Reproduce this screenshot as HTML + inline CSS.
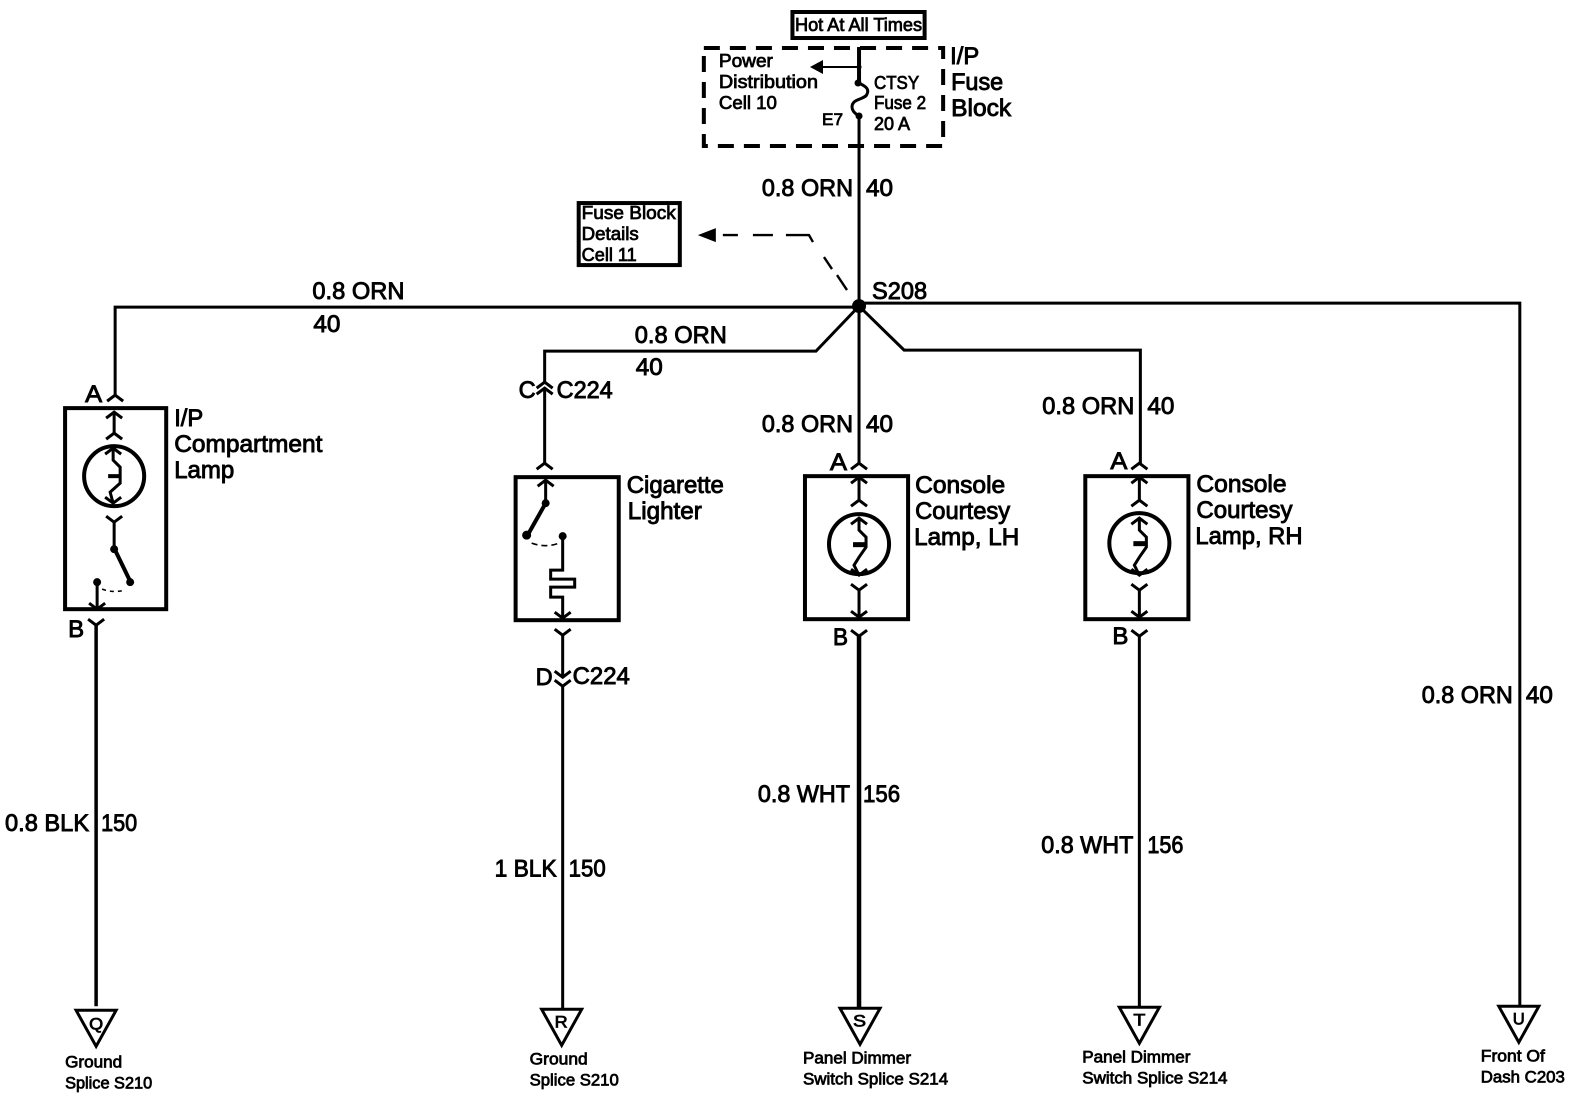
<!DOCTYPE html>
<html><head><meta charset="utf-8"><style>
html,body{margin:0;padding:0;background:#fff;width:1570px;height:1104px;overflow:hidden}
svg{display:block}
text{font-family:"Liberation Sans",sans-serif;fill:#000;stroke:#000;stroke-width:.9px}
.l{font-size:24px}.m{font-size:18px;stroke-width:.75px}.s{font-size:16.5px;stroke-width:.75px}
</style></head><body>
<svg width="1570" height="1104" viewBox="0 0 1570 1104" xmlns="http://www.w3.org/2000/svg">
<defs>
<path id="up" d="M-8,6 L0,0 L8,6" fill="none" stroke="#000" stroke-width="3"/>
<path id="dn" d="M-8,-6 L0,0 L8,-6" fill="none" stroke="#000" stroke-width="3"/>
</defs>
<g transform="scale(1.0012,1.0003)">
<g fill="none" stroke="#000" stroke-width="3">
<!-- top box -->
<rect x="791.5" y="12" width="132" height="26" stroke-width="4"/>
<rect x="703" y="48" width="239" height="98" stroke-dasharray="16 10" stroke-width="4"/>
<!-- main wire -->
<path d="M858,47 V82" stroke-width="4"/>
<path d="M857,83 C866,86 868,90 866,94 C864,100 851,98 851,107 C851,112 856,114 858,117" stroke-width="3"/>
<path d="M858,117 V463"/>
<path d="M858,67 H822" stroke-width="2"/>
<path d="M858,477 V500 M858,590 V617"/>
<path d="M858,636 V1008" stroke-width="4.5"/>
<!-- horizontals -->
<path d="M115,395 V307 H858 M858,303 H1518 V1006"/>
<path d="M544,382 V351 H815 L858,306 L903,350 H1139 V463"/>
<path d="M544,388 V463"/>
<!-- Left lamp -->
<rect x="65" y="408" width="101" height="201" stroke-width="4"/>
<circle cx="114" cy="476" r="30" stroke-width="4"/>
<path d="M114,412 V433 M113,448 V460 L120,467 V483 L110,492 L113,503 M114,522 V548"/>
<path d="M114,548 L130,581" stroke-width="4"/>
<path d="M97,582 V608"/>
<path d="M102,589 Q113,593 125,590" stroke-width="1.6" stroke-dasharray="4 4"/>
<path d="M96,625 V1006" stroke-width="3.5"/>
<!-- Cigarette -->
<rect x="515" y="477" width="103" height="143" stroke-width="4"/>
<path d="M545,480 V503"/>
<path d="M545,503 L527,535" stroke-width="4"/>
<path d="M562,536 V570 H550 V579 H574 V587 H550 V597 H562 V618"/>
<path d="M531,543 Q545,548 558,543" stroke-width="1.6" stroke-dasharray="6 4"/>
<path d="M562,635 V677 M562,686 V1008"/>
<!-- LH -->
<rect x="804" y="476" width="103" height="143" stroke-width="4"/>
<circle cx="858" cy="544" r="30" stroke-width="4"/>
<path d="M858,518 V530 L865,537 V547 L858,557 L853,565 L858,575"/>
<!-- RH -->
<rect x="1084" y="476" width="103" height="143" stroke-width="4"/>
<circle cx="1138" cy="543" r="30" stroke-width="4"/>
<path d="M1138,477 V500 M1138,518 V530 L1145,537 V547 L1138,557 L1133,565 L1138,575 M1138,590 V617 M1138,636 V1007"/>
<!-- dashed -->
<path d="M722,235 H737 M752,235 H772 M785,235 H808 L812,242 M823,257 L831,269 M836,275 L846,290" stroke-width="2.4"/>
<rect x="578" y="203" width="101" height="62" stroke-width="4"/>
<!-- triangles -->
<path d="M76,1010 H116 L96,1046 Z"/>
<path d="M541,1009 H581 L561,1045 Z"/>
<path d="M839,1008 H879 L859,1044 Z"/>
<path d="M1118,1007 H1158 L1138,1043 Z"/>
<path d="M1497,1006 H1537 L1517,1042 Z"/>
</g>
<!-- dots and arrowheads -->
<circle cx="858" cy="306" r="7"/>
<g>
<circle cx="858" cy="67" r="2.5"/><circle cx="857" cy="83" r="3.5"/><circle cx="858" cy="116" r="3.5"/>
<path d="M809,67 L822,60 V74 Z"/>
<path d="M697,235 L715,228 V242 Z"/>
<circle cx="114" cy="549" r="4"/><circle cx="130" cy="582" r="4"/><circle cx="97" cy="582" r="4"/>
<circle cx="545" cy="503" r="4"/><circle cx="526" cy="535" r="4.5"/><circle cx="562" cy="536" r="4"/>
<rect x="108" y="474" width="11" height="4"/><rect x="852" y="542" width="12" height="5"/><rect x="1132" y="541" width="12" height="5"/>
</g>
<!-- connectors -->
<use href="#up" x="115" y="395"/><use href="#up" x="114" y="412"/><use href="#up" x="114" y="433"/><use href="#up" x="113" y="448"/>
<use href="#dn" x="113" y="503"/><use href="#dn" x="114" y="522"/><use href="#dn" x="97" y="609"/><use href="#dn" x="96" y="625"/>
<use href="#up" x="544" y="382"/><use href="#up" x="544" y="388"/><use href="#up" x="544" y="463"/><use href="#up" x="545" y="480"/>
<use href="#dn" x="562" y="618"/><use href="#dn" x="562" y="635"/><use href="#dn" x="562" y="677"/><use href="#dn" x="562" y="686"/>
<use href="#up" x="858" y="463"/><use href="#up" x="858" y="477"/><use href="#up" x="858" y="500"/><use href="#up" x="858" y="518"/>
<use href="#dn" x="858" y="575"/><use href="#dn" x="858" y="590"/><use href="#dn" x="858" y="617"/><use href="#dn" x="858" y="636"/>
<use href="#up" x="1138" y="463"/><use href="#up" x="1138" y="477"/><use href="#up" x="1138" y="500"/><use href="#up" x="1138" y="518"/>
<use href="#dn" x="1138" y="575"/><use href="#dn" x="1138" y="590"/><use href="#dn" x="1138" y="617"/><use href="#dn" x="1138" y="636"/>
<!-- text -->
<text class="m" x="794" y="31" textLength="127" lengthAdjust="spacingAndGlyphs">Hot At All Times</text>
<text class="m" x="718" y="67" textLength="54" lengthAdjust="spacingAndGlyphs">Power</text>
<text class="m" x="718" y="88" textLength="99" lengthAdjust="spacingAndGlyphs">Distribution</text>
<text class="m" x="718" y="109" textLength="58" lengthAdjust="spacingAndGlyphs">Cell 10</text>
<text class="m" x="873" y="89" textLength="45" lengthAdjust="spacingAndGlyphs">CTSY</text>
<text class="m" x="873" y="109" textLength="52" lengthAdjust="spacingAndGlyphs">Fuse 2</text>
<text class="m" x="873" y="130" textLength="36" lengthAdjust="spacingAndGlyphs">20 A</text>
<text class="s" x="821" y="125" textLength="21" lengthAdjust="spacingAndGlyphs">E7</text>
<text class="l" x="949" y="64" textLength="29" lengthAdjust="spacingAndGlyphs">I/P</text>
<text class="l" x="950" y="90" textLength="52" lengthAdjust="spacingAndGlyphs">Fuse</text>
<text class="l" x="950" y="116" textLength="60" lengthAdjust="spacingAndGlyphs">Block</text>
<text class="m" x="581" y="219" textLength="94" lengthAdjust="spacingAndGlyphs">Fuse Block</text>
<text class="m" x="581" y="240" textLength="57" lengthAdjust="spacingAndGlyphs">Details</text>
<text class="m" x="581" y="261" textLength="55" lengthAdjust="spacingAndGlyphs">Cell 11</text>
<text class="l" x="761" y="196" textLength="91" lengthAdjust="spacingAndGlyphs">0.8 ORN</text>
<text class="l" x="865" y="196" textLength="27" lengthAdjust="spacingAndGlyphs">40</text>
<text class="l" x="312" y="299" textLength="92" lengthAdjust="spacingAndGlyphs">0.8 ORN</text>
<text class="l" x="313" y="332" textLength="27" lengthAdjust="spacingAndGlyphs">40</text>
<text class="l" x="871" y="299" textLength="55" lengthAdjust="spacingAndGlyphs">S208</text>
<text class="l" x="634" y="343" textLength="92" lengthAdjust="spacingAndGlyphs">0.8 ORN</text>
<text class="l" x="635" y="375" textLength="27" lengthAdjust="spacingAndGlyphs">40</text>
<text class="l" x="518" y="398" textLength="17" lengthAdjust="spacingAndGlyphs">C</text>
<text class="l" x="556" y="398" textLength="56" lengthAdjust="spacingAndGlyphs">C224</text>
<text class="l" x="761" y="432" textLength="91" lengthAdjust="spacingAndGlyphs">0.8 ORN</text>
<text class="l" x="865" y="432" textLength="27" lengthAdjust="spacingAndGlyphs">40</text>
<text class="l" x="1041" y="414" textLength="92" lengthAdjust="spacingAndGlyphs">0.8 ORN</text>
<text class="l" x="1146" y="414" textLength="27" lengthAdjust="spacingAndGlyphs">40</text>
<text class="l" x="85" y="402" textLength="17" lengthAdjust="spacingAndGlyphs">A</text>
<text class="l" x="829" y="470" textLength="17" lengthAdjust="spacingAndGlyphs">A</text>
<text class="l" x="1109" y="469" textLength="17" lengthAdjust="spacingAndGlyphs">A</text>
<text class="l" x="68" y="637" textLength="16" lengthAdjust="spacingAndGlyphs">B</text>
<text class="l" x="832" y="645" textLength="15" lengthAdjust="spacingAndGlyphs">B</text>
<text class="l" x="1111" y="644" textLength="16" lengthAdjust="spacingAndGlyphs">B</text>
<text class="l" x="535" y="685" textLength="17" lengthAdjust="spacingAndGlyphs">D</text>
<text class="l" x="572" y="684" textLength="57" lengthAdjust="spacingAndGlyphs">C224</text>
<text class="l" x="174" y="426" textLength="29" lengthAdjust="spacingAndGlyphs">I/P</text>
<text class="l" x="174" y="452" textLength="148" lengthAdjust="spacingAndGlyphs">Compartment</text>
<text class="l" x="174" y="478" textLength="60" lengthAdjust="spacingAndGlyphs">Lamp</text>
<text class="l" x="626" y="493" textLength="97" lengthAdjust="spacingAndGlyphs">Cigarette</text>
<text class="l" x="627" y="519" textLength="74" lengthAdjust="spacingAndGlyphs">Lighter</text>
<text class="l" x="914" y="493" textLength="90" lengthAdjust="spacingAndGlyphs">Console</text>
<text class="l" x="914" y="519" textLength="95" lengthAdjust="spacingAndGlyphs">Courtesy</text>
<text class="l" x="913" y="545" textLength="105" lengthAdjust="spacingAndGlyphs">Lamp, LH</text>
<text class="l" x="1195" y="492" textLength="90" lengthAdjust="spacingAndGlyphs">Console</text>
<text class="l" x="1195" y="518" textLength="96" lengthAdjust="spacingAndGlyphs">Courtesy</text>
<text class="l" x="1194" y="544" textLength="107" lengthAdjust="spacingAndGlyphs">Lamp, RH</text>
<text class="l" x="1420" y="703" textLength="91" lengthAdjust="spacingAndGlyphs">0.8 ORN</text>
<text class="l" x="1524" y="703" textLength="27" lengthAdjust="spacingAndGlyphs">40</text>
<text class="l" x="5" y="831" textLength="84" lengthAdjust="spacingAndGlyphs">0.8 BLK</text>
<text class="l" x="101" y="831" textLength="36" lengthAdjust="spacingAndGlyphs">150</text>
<text class="l" x="494" y="876" textLength="62" lengthAdjust="spacingAndGlyphs">1 BLK</text>
<text class="l" x="568" y="876" textLength="37" lengthAdjust="spacingAndGlyphs">150</text>
<text class="l" x="757" y="802" textLength="92" lengthAdjust="spacingAndGlyphs">0.8 WHT</text>
<text class="l" x="862" y="802" textLength="37" lengthAdjust="spacingAndGlyphs">156</text>
<text class="l" x="1040" y="853" textLength="92" lengthAdjust="spacingAndGlyphs">0.8 WHT</text>
<text class="l" x="1146" y="853" textLength="36" lengthAdjust="spacingAndGlyphs">156</text>
<text class="s" x="89" y="1029" textLength="14" lengthAdjust="spacingAndGlyphs">Q</text>
<text class="s" x="554" y="1027" textLength="13" lengthAdjust="spacingAndGlyphs">R</text>
<text class="s" x="852" y="1026" textLength="13" lengthAdjust="spacingAndGlyphs">S</text>
<text class="s" x="1132" y="1025" textLength="12" lengthAdjust="spacingAndGlyphs">T</text>
<text class="s" x="1511" y="1024" textLength="12" lengthAdjust="spacingAndGlyphs">U</text>
<text class="s" x="65" y="1067" textLength="57" lengthAdjust="spacingAndGlyphs">Ground</text>
<text class="s" x="65" y="1088" textLength="87" lengthAdjust="spacingAndGlyphs">Splice S210</text>
<text class="s" x="529" y="1064" textLength="58" lengthAdjust="spacingAndGlyphs">Ground</text>
<text class="s" x="529" y="1085" textLength="89" lengthAdjust="spacingAndGlyphs">Splice S210</text>
<text class="s" x="802" y="1063" textLength="108" lengthAdjust="spacingAndGlyphs">Panel Dimmer</text>
<text class="s" x="802" y="1084" textLength="145" lengthAdjust="spacingAndGlyphs">Switch Splice S214</text>
<text class="s" x="1081" y="1062" textLength="108" lengthAdjust="spacingAndGlyphs">Panel Dimmer</text>
<text class="s" x="1081" y="1083" textLength="145" lengthAdjust="spacingAndGlyphs">Switch Splice S214</text>
<text class="s" x="1479" y="1061" textLength="64" lengthAdjust="spacingAndGlyphs">Front Of</text>
<text class="s" x="1479" y="1082" textLength="84" lengthAdjust="spacingAndGlyphs">Dash C203</text>
</g>
</svg>
</body></html>
